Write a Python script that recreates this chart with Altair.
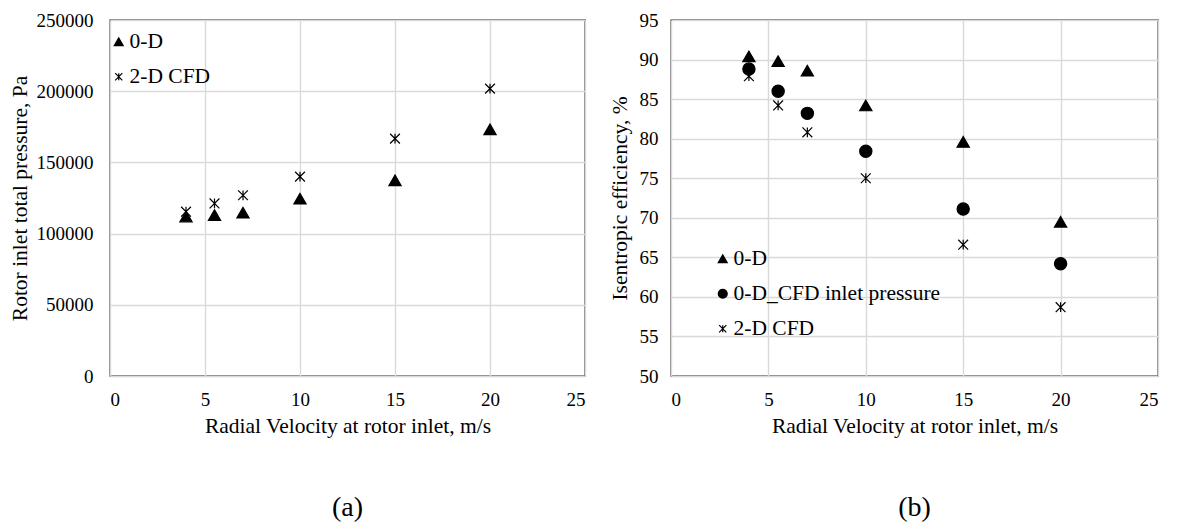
import altair as alt
import pandas as pd

velocity = [4, 5.5, 7, 10, 15, 20]

# Panel (a): rotor inlet total pressure, Pa
pressure_0d = [112000, 113000, 114700, 124500, 137400, 173200]
pressure_cfd = [115400, 121200, 126900, 140000, 166700, 201800]

# Panel (b): isentropic efficiency, %
eff_0d = [90.4, 89.8, 88.6, 84.2, 79.6, 69.5]
eff_0d_cfdp = [88.8, 86.0, 83.2, 78.4, 71.1, 64.2]
eff_cfd = [87.9, 84.2, 80.8, 75.0, 66.6, 58.7]

STAR = "M-0.8,-0.8L0.8,0.8M-0.8,0.8L0.8,-0.8M0,-0.8L0,0.8"
FONT = "Liberation Serif"

def frame(series):
    rows = []
    for name, vals in series:
        for v, y in zip(velocity, vals):
            rows.append({"v": v, "y": y, "s": name})
    return pd.DataFrame(rows)

df_a = frame([("0-D", pressure_0d), ("2-D CFD", pressure_cfd)])
df_b = frame([("0-D", eff_0d), ("0-D_CFD inlet pressure", eff_0d_cfdp), ("2-D CFD", eff_cfd)])


def panel(df, names, shapes, fills, ytitle, ydom, yvals, w, h, lx, ly, label,
          ylabpad, ytitlepad):
    legend = alt.Legend(title=None, orient="none", legendX=lx, legendY=ly,
                        labelFontSize=21.5, labelFont=FONT, labelColor="black",
                        labelLimit=0, symbolSize=80, rowPadding=12, labelOffset=0,
                        padding=0, symbolStrokeWidth=1.2)
    xaxis = alt.Axis(title="Radial Velocity at rotor inlet, m/s", values=[0, 5, 10, 15, 20, 25],
                     ticks=False, labelPadding=14, titlePadding=6, domain=False)
    yaxis = alt.Axis(title=ytitle, values=yvals, ticks=False, labelPadding=ylabpad,
                     titlePadding=ytitlepad, domain=False, format="d")
    return alt.Chart(df).mark_point(opacity=1, strokeWidth=1.2, size=150).encode(
        x=alt.X("v:Q", scale=alt.Scale(domain=[0, 25], nice=False), axis=xaxis),
        y=alt.Y("y:Q", scale=alt.Scale(domain=ydom, nice=False, zero=False), axis=yaxis),
        shape=alt.Shape("s:N", scale=alt.Scale(domain=names, range=shapes), legend=legend),
        fill=alt.Fill("s:N", scale=alt.Scale(domain=names, range=fills), legend=legend),
        stroke=alt.Stroke("s:N", scale=alt.Scale(domain=names, range=["black"] * len(names)),
                          legend=legend),
    ).properties(width=w, height=h,
                 title=alt.TitleParams(label, orient="bottom", fontSize=28, font=FONT,
                                       fontWeight="normal", offset=57, color="black"))

a = panel(df_a, ["0-D", "2-D CFD"], ["triangle-up", STAR], ["black", "transparent"],
          "Rotor inlet total pressure, Pa", [0, 250000],
          [0, 50000, 100000, 150000, 200000, 250000], 475, 356, -2, 11, "(a)", 17, 5)
b = panel(df_b, ["0-D", "0-D_CFD inlet pressure", "2-D CFD"],
          ["triangle-up", "circle", STAR], ["black", "black", "transparent"],
          "Isentropic efficiency, %", [50, 95], list(range(50, 96, 5)), 487, 356, 41, 228, "(b)",
          13, 8)

chart = alt.hconcat(a, b, spacing=22).resolve_scale(
    shape="independent", fill="independent", stroke="independent"
).resolve_legend(shape="independent", fill="independent", stroke="independent").configure(
    font=FONT, background="white", padding={"left": 8, "top": 10, "right": 5, "bottom": 0}
).configure_view(
    stroke="black", strokeWidth=1.3
).configure_axis(
    labelFont=FONT, titleFont=FONT, labelFontSize=19, titleFontSize=21.5,
    labelColor="black", titleColor="black", titleFontWeight="normal",
    gridColor="#d9d9d9", gridWidth=1.4
)

chart.save("out.html", embed_options={"renderer": "svg", "actions": False})
